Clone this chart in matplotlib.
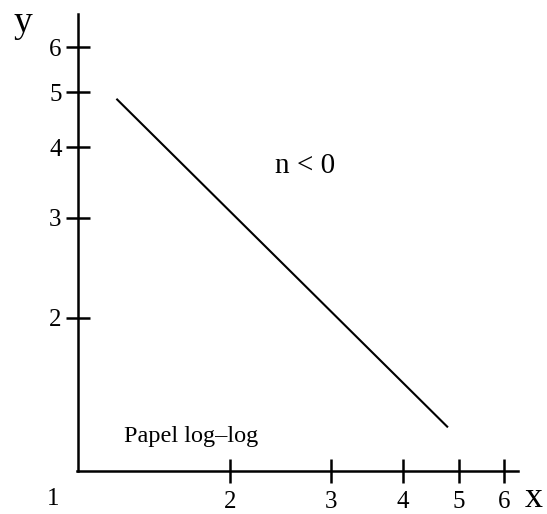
import matplotlib
matplotlib.use("Agg")
import matplotlib.pyplot as plt

plt.rcParams['font.family'] = ['Liberation Serif', 'DejaVu Serif']

# data
x_line = [1.27, 4.79]
y_line = [4.87, 1.28]
x_ticks = [2, 3, 4, 5, 6]
y_ticks = [2, 3, 4, 5, 6]
x_tick_labels = ["2", "3", "4", "5", "6"]
y_tick_labels = ["2", "3", "4", "5", "6"]

# where the axes cross and how far they run (data units)
x_cross = 1.087
y_cross = 1.071

fig = plt.figure(figsize=(5.47, 5.14), dpi=100)
ax = fig.add_axes([0, 0, 1, 1])
ax.set_xscale("log")
ax.set_yscale("log")
ax.set_xlim(0.7968, 7.122)
ax.set_ylim(0.900, 7.277)
ax.patch.set_visible(False)

ax.plot(x_line, y_line, color="black", lw=1.5, solid_capstyle="butt")

for s in ["top", "right"]:
    ax.spines[s].set_visible(False)
ax.spines["left"].set_position(("data", x_cross))
ax.spines["bottom"].set_position(("data", y_cross))
ax.spines["left"].set_bounds(y_cross, 6.87)
ax.spines["bottom"].set_bounds(1.083, 6.34)
for s in ["left", "bottom"]:
    ax.spines[s].set_linewidth(1.8)

ax.set_xticks(x_ticks, x_tick_labels)
ax.set_yticks(y_ticks, y_tick_labels)
ax.minorticks_off()
ax.tick_params(axis="both", direction="inout", length=17, width=1.8, labelsize=18)
ax.tick_params(axis="y", pad=3)
ax.tick_params(axis="x", pad=5.5)

# corner label, axis names and notes
ax.text(0.985, 0.958, "1", fontsize=18, ha="center", va="center")
fig.text(22.5 / 547, 1 - 32 / 514, "y", fontsize=27, ha="center", va="baseline")
fig.text(534 / 547, 1 - 507 / 514, "x", fontsize=26, ha="center", va="baseline")
fig.text(305 / 547, 1 - 172.7 / 514, "n < 0", fontsize=21, ha="center", va="baseline")
fig.text(191.5 / 547, 1 - 441.7 / 514, "Papel log–log", fontsize=17.5, ha="center", va="baseline")

fig.savefig("out.png", dpi=100)
